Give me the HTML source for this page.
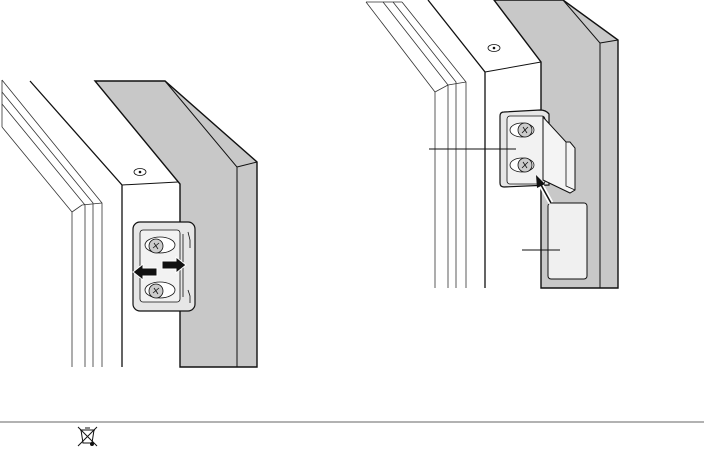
<!DOCTYPE html>
<html><head><meta charset="utf-8"><style>
html,body{margin:0;padding:0;background:#fff;}
svg{display:block;}
</style></head><body>
<svg width="704" height="449" viewBox="0 0 704 449" xmlns="http://www.w3.org/2000/svg" fill="none" stroke="#111" stroke-width="1">
<!-- LEFT FIGURE -->
<g stroke="#333" stroke-width="0.8">
<path d="M2,80 L2,127"/>
<path d="M2,80 L102,203 L102,367"/>
<path d="M2,92 L93,203 L93,367"/>
<path d="M2,104 L85,205 L85,367"/>
<path d="M2,127 L72,212 L72,367"/>
<path d="M72,212 L82,205 L102,203"/>
</g>
<path d="M30,81 L122,185 L122,367" stroke-width="1.3"/>
<path d="M122,185 L178,182" stroke-width="1"/>
<path d="M95,81 L165,81 L257,162 L257,367 L180,367 L180,184 Z" fill="#c8c8c8" stroke-width="1.4"/>
<path d="M165,81 L237,167 L237,367 M237,167 L257,162" stroke-width="1"/>
<ellipse cx="140" cy="172" rx="6" ry="3.5" fill="#fff" stroke-width="0.8"/>
<circle cx="140" cy="172" r="1.3" fill="#111" stroke="none"/>
<!-- bracket -->
<rect x="133" y="222" width="62" height="89" rx="7" fill="#e6e6e6" stroke-width="1.2"/>
<rect x="140" y="230" width="40" height="72" rx="3" fill="#f2f2f2" stroke-width="0.8"/>
<path d="M183,234 L183,297" stroke-width="0.8"/>
<path d="M188,232 L190,240 L190,248 M188,290 L190,296 L190,303" stroke-width="0.8"/>
<g stroke-width="0.8">
<ellipse cx="160" cy="245" rx="15" ry="8" fill="#fff"/>
<circle cx="156" cy="246" r="7" fill="#ccc"/>
<path d="M153,248 L159,243 M154,243 L158,249"/>
<ellipse cx="160" cy="290" rx="15" ry="8" fill="#fff"/>
<circle cx="156" cy="291" r="7" fill="#ccc"/>
<path d="M153,293 L159,288 M154,288 L158,294"/>
</g>
<path d="M133,272 L143,264 L143,268 L157,268 L157,276 L143,276 L143,280 Z" fill="#111" stroke="#fff" stroke-width="1"/>
<path d="M186,265 L176,257 L176,261 L162,261 L162,269 L176,269 L176,273 Z" fill="#111" stroke="#fff" stroke-width="1"/>

<!-- RIGHT FIGURE -->
<g stroke="#333" stroke-width="0.8">
<path d="M366,2 L435,92 L435,288"/>
<path d="M383,2 L448,85 L448,288"/>
<path d="M393,2 L456,82 L456,288"/>
<path d="M402,2 L466,82 L466,288"/>
<path d="M366,2 L402,2 M435,92 L448,85 L466,82"/>
</g>
<path d="M428,0 L485,72 L485,288" stroke-width="1.3"/>
<path d="M485,72 L541,62" stroke-width="1"/>
<path d="M494,0 L563,0 L618,40 L618,288 L541,288 L541,62 Z" fill="#c8c8c8" stroke-width="1.4"/>
<path d="M563,0 L600,43 L600,288 M600,43 L618,40" stroke-width="1"/>
<ellipse cx="494" cy="48" rx="6" ry="3.5" fill="#fff" stroke-width="0.8"/>
<circle cx="494" cy="48" r="1.3" fill="#111" stroke="none"/>
<rect x="548" y="203" width="39" height="76" rx="3" fill="#f0f0f0" stroke-width="1"/>
<path d="M500,116 Q500,112 504,112 L540,110 Q546,110 549,114 L549,185 L504,187 Q500,187 500,183 Z" fill="#e6e6e6" stroke-width="1.2"/>
<rect x="507" y="116" width="38" height="68" rx="3" fill="#f2f2f2" stroke-width="0.8"/>
<g stroke-width="0.8">
<ellipse cx="522" cy="130" rx="12" ry="7" fill="#fff"/>
<circle cx="525" cy="130" r="7" fill="#ccc"/>
<path d="M522,133 L528,127 M523,127 L527,133"/>
<ellipse cx="522" cy="165" rx="12" ry="7" fill="#fff"/>
<circle cx="525" cy="165" r="7" fill="#ccc"/>
<path d="M522,168 L528,162 M523,162 L527,168"/>
</g>
<path d="M547,147 L556,145 L556,165 L547,168 Z" fill="#ccc" stroke-width="0.8"/>
<path d="M543,117 L566,142 L570,142 L575,148 L575,190 L570,193 L543,180 Z" fill="#f4f4f4" stroke-width="1"/>
<path d="M566,142 L566,186 L575,190" stroke-width="0.8"/>
<path d="M551,203 L540,183" stroke="#fff" stroke-width="5"/>
<path d="M551,203 L540,183" stroke-width="1.5"/>
<path d="M536,175 L537,188 L545,184 Z" fill="#111" stroke="none"/>
<path d="M429,149 L516,149" stroke-width="1"/>
<path d="M522,250 L560,250" stroke-width="1"/>

<line x1="0" y1="422" x2="704" y2="422" stroke="#999" stroke-width="1.5"/>
<g stroke-width="1">
<path d="M81,430 L83,443 L92,443 L94,430 Z" fill="#fff"/>
<path d="M80,430 L95,430 M85,428 L90,428"/>
<path d="M78,427 L97,446 M97,427 L78,446"/>
<circle cx="92" cy="444" r="1.5" fill="#111"/>
</g>
</svg>
</body></html>
